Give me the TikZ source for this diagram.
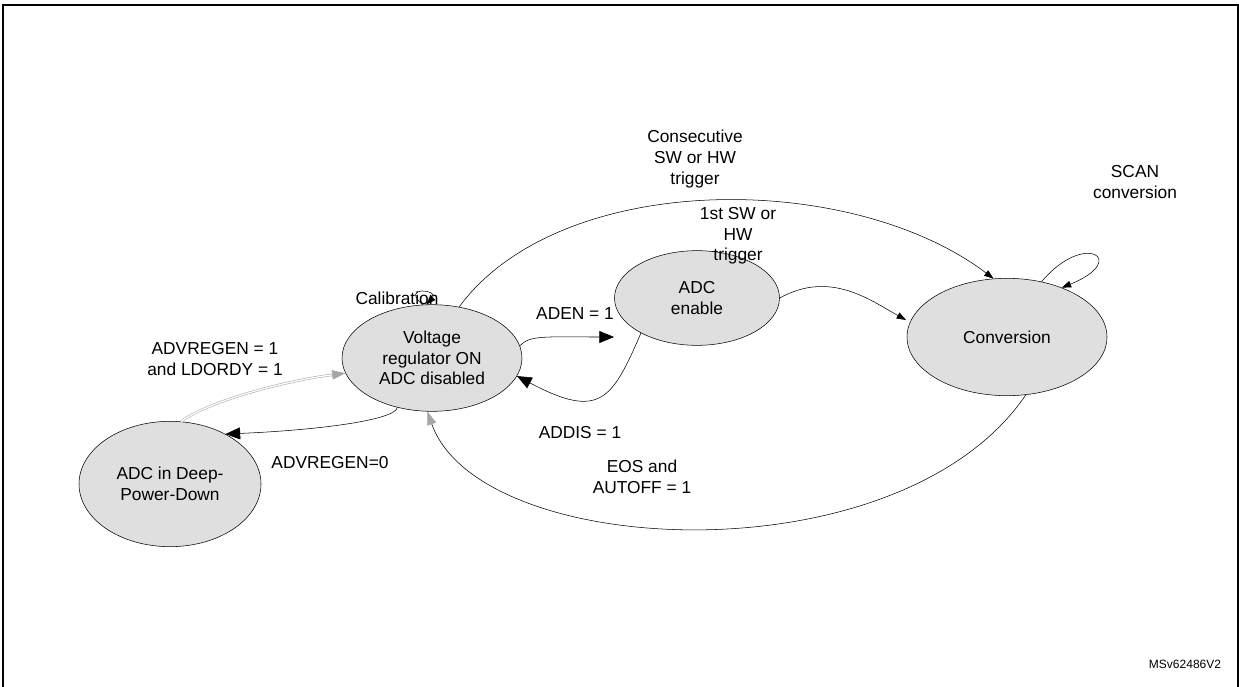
\documentclass[tikz,border=0pt]{standalone}
\usepackage{fontspec}
\setmainfont{Liberation Sans}
\usetikzlibrary{arrows.meta,shapes.geometric}
\begin{document}
\begin{tikzpicture}[x=0.75pt,y=-0.75pt,
  st/.style={ellipse,draw,fill=gray!25,minimum width=#1*0.75pt,align=center,inner sep=0pt},
  lbl/.style={align=center,font=\fontsize{13}{15.5}\selectfont},
  big/.style={-{Triangle[length=11pt,width=9pt]}},
  sm/.style={-{Triangle[length=7pt,width=5pt]}},
  gr/.style={-{Triangle[length=10pt,width=7pt,color=gray!70,fill=gray!70]}}]
\useasboundingbox (0,0) rectangle (1239,686);
\draw[line width=1.2pt] (3,5) rectangle (1238,690);
\node[st=180,minimum height=80,lbl] (v) at (432,358) {Voltage\\regulator ON\\ADC disabled};
\node[st=165,minimum height=71,lbl] (e) at (697,298) {ADC\\enable};
\node[st=200,minimum height=88,lbl] (c) at (1007,337) {Conversion};
\node[st=182,minimum height=94,lbl] (d) at (170,484) {ADC in Deep-\\Power-Down};
\coordinate (ein) at (614,337);
\coordinate (cin) at (906,320);
% calibration loop
\draw[sm] (v.100) .. controls (400,285) and (440,290) .. (v.96);
\node[lbl] (cal) at (397,298) {Calibration};
% ADEN
\draw[big] (v.8) .. controls (530,335) and (545,337) .. (ein);
\node[lbl] (aden) at (575,314) {ADEN = 1};
% ADDIS
\draw[big] (e.212) .. controls (612,400) and (600,420) .. (v.-12);
\node[lbl] (addis) at (580,433) {ADDIS = 1};
% ADVREGEN=0
\draw[big] (v.-125) .. controls (395,420) and (320,430) .. (d.42);
\node[lbl] (a0) at (330,463) {ADVREGEN=0};
% ADVREGEN=1 (double line)
\draw[gr,draw=gray!70,double=white,double distance=1pt] (d.80) .. controls (210,400) and (290,380) .. (v.190);
\node[lbl] (a1) at (215,359) {ADVREGEN = 1\\and LDORDY = 1};
% 1st trigger
\draw[sm] (e.east) .. controls (830,270) and (870,300) .. (cin);
\node[lbl] (t1) at (738,236) {1st SW or\\HW\\trigger};
% consecutive
\draw[sm] (v.62) .. controls (560,170) and (850,170) .. (c.103);
\node[lbl] (t2) at (695,159) {Consecutive\\SW or HW\\trigger};
% scan loop
\draw[sm] (c.58) .. controls (1085,230) and (1130,260) .. (c.42);
\node[lbl] (scan) at (1135,182) {SCAN\\conversion};
% EOS
\draw[gr] (c.-72) .. controls (900,580) and (480,560) .. (v.-95);
\node[lbl] (eos) at (642,477) {EOS and\\AUTOFF = 1};
\node[font=\fontsize{9}{11}\selectfont] (ms) at (1185,664) {MSv62486V2};
\end{tikzpicture}
\end{document}
